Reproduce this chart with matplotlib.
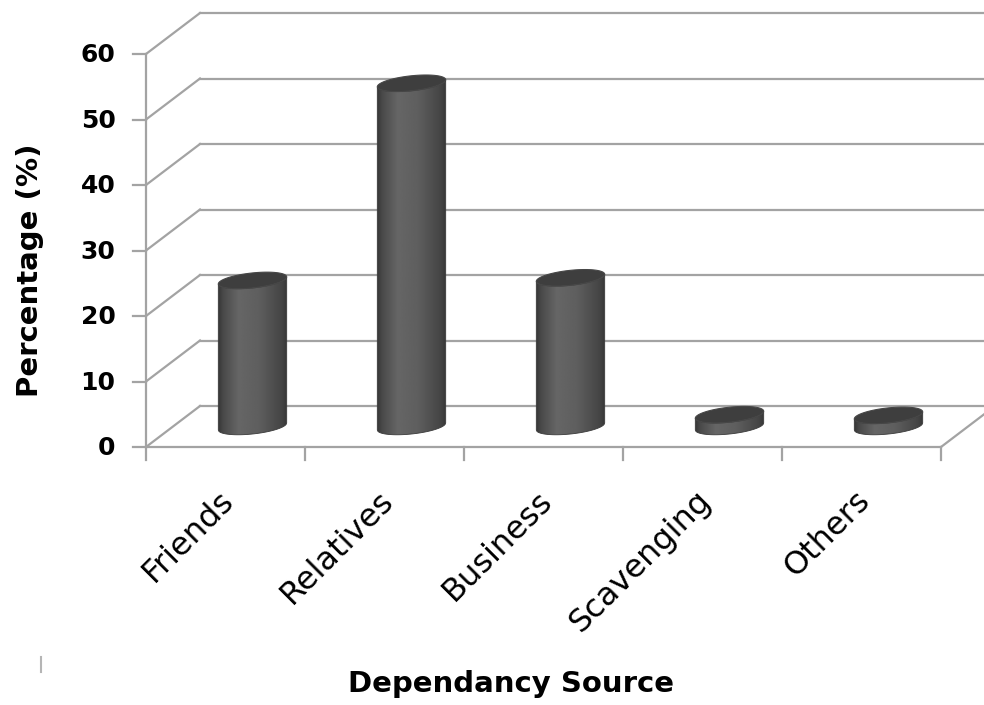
import matplotlib
matplotlib.use("Agg")
import matplotlib.pyplot as plt
import numpy as np
from matplotlib.lines import Line2D
from matplotlib.patches import Polygon
from matplotlib.transforms import offset_copy

categories = ["Friends", "Relatives", "Business", "Scavenging", "Others"]
percentages = [22.3, 52.4, 22.7, 1.8, 1.7]
y_ticks = [0, 10, 20, 30, 40, 50, 60]

GRID = "#a3a3a3"
DEPTH = (54, 41)  # back wall offset in pixels (right, up)

fig = plt.figure(figsize=(9.84, 7.05), dpi=100)
ax = fig.add_axes([146 / 984, 258 / 705, 795 / 984, 393 / 705])
n = len(categories)

front = ax.transData
back = offset_copy(ax.transData, fig=fig, x=DEPTH[0], y=DEPTH[1], units="dots")
middle = offset_copy(ax.transData, fig=fig, x=DEPTH[0] / 2, y=DEPTH[1] / 2, units="dots")


def seg(x0, y0, x1, y1, t0, t1, **kw):
    # line between two points that may live on different depth planes
    inv = ax.transData.inverted()
    q0 = inv.transform(t0.transform((x0, y0)))
    q1 = inv.transform(t1.transform((x1, y1)))
    ax.add_line(Line2D([q0[0], q1[0]], [q0[1], q1[1]], clip_on=False, **kw))


def cylinder(cx, value):
    u = np.linspace(-1, 1, 121)
    bottom = -ry * np.sqrt(1 - u ** 2) + tilt * u
    xs = cx + rx * u
    outline = np.vstack([np.column_stack([xs, bottom]),
                         np.column_stack([xs[::-1], value + bottom[::-1]])])
    body = Polygon(outline, closed=True, facecolor="none", edgecolor="#3a3a3a",
                   lw=0.6, transform=middle, zorder=6, clip_on=False)
    ax.add_patch(body)

    shade = np.interp(np.linspace(-1, 1, 200), levels_u, levels_g)
    img = ax.imshow(shade[None, :], extent=(cx - rx, cx + rx, -2 * ry, value + ry),
                    cmap="gray", vmin=0, vmax=1, aspect="auto",
                    interpolation="bilinear", transform=middle, zorder=5)
    img.set_clip_path(body)

    t = np.linspace(0, 2 * np.pi, 160)
    cap = np.column_stack([cx + rx * np.cos(t),
                           value + ry * np.sin(t) + tilt * np.cos(t)])
    ax.add_patch(Polygon(cap, closed=True, facecolor="#3e3e3e", edgecolor="#474747",
                         lw=0.8, transform=middle, zorder=7, clip_on=False))


ax.set_xlim(0, n)
ax.set_ylim(0, y_ticks[-1])
ax.axis("off")
ypx = ax.bbox.height / y_ticks[-1]
xpx = ax.bbox.width / n

# back wall gridlines and left wall diagonals
for v in y_ticks:
    ax.plot([0, n + 1], [v, v], color=GRID, lw=1.6, transform=back, clip_on=False, zorder=1)
    seg(0, v, 0, v, front, back, color=GRID, lw=1.6, zorder=1)

# floor front edge, right diagonal, axis line and ticks
ax.plot([0, n], [0, 0], color=GRID, lw=1.6, clip_on=False, zorder=2)
seg(n, 0, n, 0, front, back, color=GRID, lw=1.6, zorder=1)
ax.plot([0, 0], [0, y_ticks[-1]], color=GRID, lw=1.6, clip_on=False, zorder=2)

for v in y_ticks:
    ax.plot([-13 / xpx, 0], [v, v], color=GRID, lw=1.6, clip_on=False)
    ax.annotate(str(v), (0, v), xytext=(-22, -1), textcoords="offset points",
                ha="right", va="center", fontsize=18, fontweight="bold",
                color="black", annotation_clip=False)
for i in range(n + 1):
    ax.plot([i, i], [0, -13 / ypx], color=GRID, lw=1.6, clip_on=False)

for i, name in enumerate(categories):
    ax.annotate(name, (i + 0.5, 0), xytext=(3, -35), textcoords="offset points",
                ha="right", va="center", rotation=45, rotation_mode="anchor",
                fontsize=23, color="black", annotation_clip=False)

# cylinders
rx = 0.215
ry = 7.5 / ypx
tilt = 3.5 / ypx
levels_u = [-1.0, -0.85, -0.4, 0.2, 0.85, 1.0]
levels_g = [0.21, 0.29, 0.40, 0.37, 0.27, 0.22]

for i, v in enumerate(percentages):
    cylinder(i + 0.5, v)

ax.set_xlim(0, n)
ax.set_ylim(0, y_ticks[-1])

fig.text(30 / 984, 1 - 270 / 705, "Percentage (%)", rotation=90, ha="center",
         va="center", fontsize=21, fontweight="bold")
fig.text(511 / 984, 1 - 684 / 705, "Dependancy Source", ha="center", va="center",
         fontsize=21, fontweight="bold")
fig.add_artist(Line2D([41 / 984, 41 / 984], [1 - 672 / 705, 1 - 657 / 705],
                      color="#b5b5b5", lw=1.5))

fig.savefig("out.png", dpi=100, facecolor="white")
